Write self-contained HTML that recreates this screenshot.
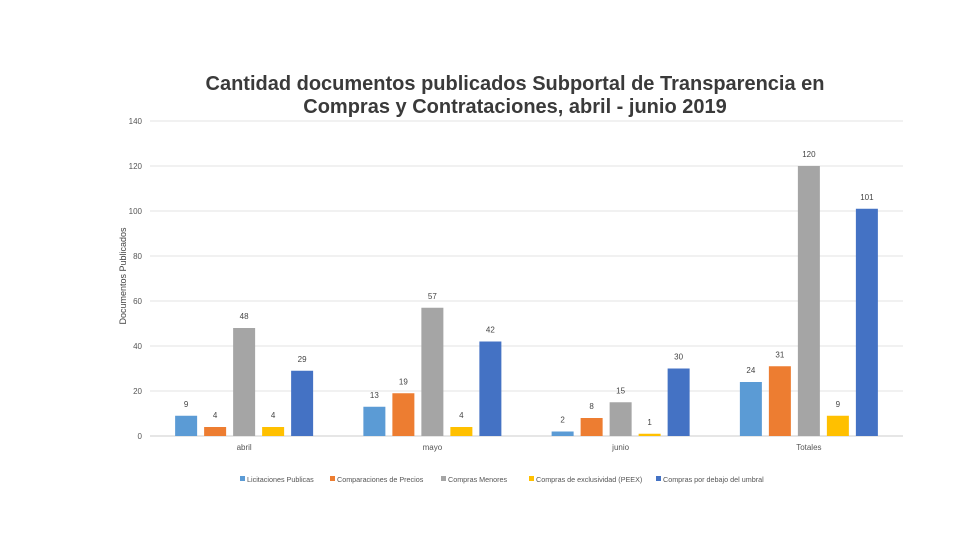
<!DOCTYPE html>
<html><head><meta charset="utf-8"><style>
body{margin:0;background:#fff;font-family:"Liberation Sans",sans-serif}
svg text{font-family:"Liberation Sans",sans-serif}
</style></head><body>
<svg id="c" width="960" height="540">
<text x="515" y="90" text-anchor="middle" font-size="20" font-weight="bold" fill="#3a3a3a">Cantidad documentos publicados Subportal de Transparencia en</text>
<text x="515" y="113" text-anchor="middle" font-size="20" font-weight="bold" fill="#3a3a3a">Compras y Contrataciones, abril - junio 2019</text>
<text transform="translate(126,276) rotate(-90)" text-anchor="middle" font-size="9" fill="#444">Documentos Publicados</text>
<g id="grid"></g><g id="bars"></g><g id="legend"></g>
</svg>
<script>
const categories=["abril","mayo","junio","Totales"];
const seriesNames=["Licitaciones Publicas","Comparaciones de Precios","Compras Menores","Compras de exclusividad (PEEX)","Compras por debajo del umbral"];
const licitaciones=[9,13,2,24];
const comparaciones=[4,19,8,31];
const menores=[48,57,15,120];
const peex=[4,4,1,9];
const umbral=[29,42,30,101];
const yTicks=[0,20,40,60,80,100,120,140];
const series=[licitaciones,comparaciones,menores,peex,umbral];
const colors=["#5B9BD5","#ED7D31","#A5A5A5","#FFC000","#4472C4"];
const NS="http://www.w3.org/2000/svg";
const x0=150,x1=903,y0=436,yTop=121,yMax=140;
const y=v=>y0-(v/yMax)*(y0-yTop);
const gw=(x1-x0)/categories.length;
const xc=i=>x0+gw*(i+0.5);
function mk(t,a,p){const e=document.createElementNS(NS,t);for(const k in a)e.setAttribute(k,a[k]);p.appendChild(e);return e;}
const grid=document.getElementById('grid');
yTicks.forEach(t=>{
 const l=mk('line',{x1:x0,x2:x1,y1:y(t),y2:y(t),stroke:t===0?'#ccc':'#e3e3e3','stroke-width':1},grid);
 
 
 const tx=mk('text',{x:142,y:y(t)+3,'text-anchor':'end','font-size':8,fill:'#555'},grid);
 tx.textContent=t;
 
 
});
const bars=document.getElementById('bars');
const bw=22,step=29;
categories.forEach((c,i)=>{
 const tx=mk('text',{x:xc(i),y:450,'text-anchor':'middle','font-size':8,fill:'#555'},bars);
 tx.textContent=c;
 
 
 series.forEach((s,j)=>{
  const bx=xc(i)+(j-2)*step-bw/2;
  const r=mk('rect',{x:bx,y:y(s[i]),width:bw,height:y0-y(s[i]),fill:colors[j]},bars);
  
  
  const lb=mk('text',{x:bx+bw/2,y:y(s[i])-9,'text-anchor':'middle','font-size':8,fill:'#444'},bars);
  lb.textContent=s[i];
  
  
 });
});
const lg=document.getElementById('legend');
const lx=[240,330,441,529,656];
seriesNames.forEach((n,j)=>{
 const r=mk('rect',{x:lx[j],y:476,width:5,height:5,fill:colors[j]},lg);
 
 
 const t=mk('text',{x:lx[j]+7,y:482,'font-size':7.2,fill:'#555'},lg);
 t.textContent=n;
 
 
});
</script>
</body></html>
